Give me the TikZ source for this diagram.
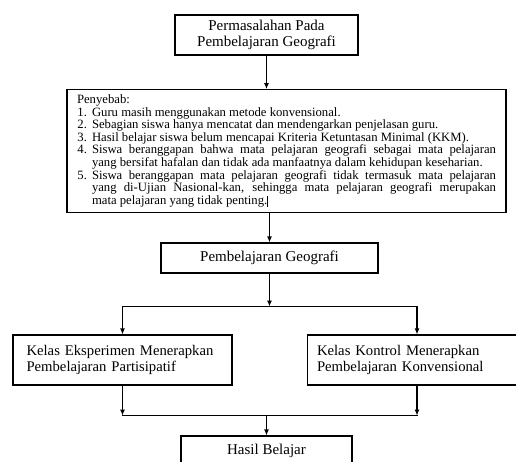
\documentclass[tikz,border=0pt]{standalone}
\usepackage{fontspec}
\setmainfont{Liberation Serif}
\usetikzlibrary{arrows.meta}

\begin{document}
\begin{tikzpicture}[x=1pt, y=-1pt, node distance=107pt, >={Latex[length=6pt,width=5pt]},
    kotak/.style={draw, line width=1.1pt, fill=white, align=center, font=\fontsize{15}{15.5}\selectfont},
    sisi/.style={kotak, align=left, minimum height=50pt, font=\fontsize{14.7}{15.5}\selectfont},
    panah/.style={->, line width=1.1pt},
    garis/.style={line width=1.1pt, line cap=rect}]
    \useasboundingbox (0,0) rectangle (516,461);
    \clip (0,0) rectangle (516,461);
    \node[kotak, minimum width=183pt, minimum height=40pt] (masalah) at (266.5,35) {Permasalahan Pada\\Pembelajaran Geografi};
    \node[kotak, align=justify, text width=419pt, inner xsep=10pt, inner ysep=5pt, font=\fontsize{12.7}{11.5}\selectfont, below of=masalah, xshift=20pt, yshift=-9pt] (penyebab) {\hyphenpenalty=10000 Penyebab:
        \begin{list}{\arabic{enumi}.}{\usecounter{enumi}\setlength{\leftmargin}{15pt}\setlength{\labelsep}{5pt}\setlength{\labelwidth}{10pt}%
            \setlength{\topsep}{0pt}\setlength{\partopsep}{0pt}\setlength{\itemsep}{0pt}\setlength{\parsep}{0pt}}
        \item Guru masih menggunakan metode konvensional.
        \item Sebagian siswa hanya mencatat dan mendengarkan penjelasan guru.
        \item Hasil belajar siswa belum mencapai Kriteria Ketuntasan Minimal (KKM).
        \item Siswa beranggapan bahwa mata pelajaran geografi sebagai mata pelajaran\linebreak
            yang bersifat hafalan dan tidak ada manfaatnya dalam kehidupan keseharian.
        \item Siswa beranggapan mata pelajaran geografi tidak termasuk mata pelajaran\linebreak
            yang di-Ujian Nasional-kan, sehingga mata pelajaran geografi merupakan\linebreak
            mata pelajaran yang tidak penting.\rule[-2pt]{0.7pt}{11pt}
        \end{list}};
    \node[kotak, minimum width=217pt, minimum height=30pt, below of=penyebab, xshift=-17pt] (geografi) {Pembelajaran Geografi};
    \node[sisi, text width=192pt, inner xsep=13.5pt, below of=geografi, xshift=-147pt, yshift=5pt] (eksperimen) {Kelas Eksperimen Menerapkan\\Pembelajaran Partisipatif};
    \node[sisi, text width=200pt, inner xsep=9.5pt, below of=geografi, xshift=147.5pt, yshift=5pt] (kontrol) {Kelas Kontrol Menerapkan\\Pembelajaran Konvensional};
    \node[kotak, minimum width=171pt, minimum height=30pt, below of=geografi, xshift=-3pt, yshift=-86pt] (hasil) {Hasil Belajar};
    \coordinate (bagi) at ([yshift=-33pt]geografi.south);
    \coordinate (gabung) at ([yshift=-30pt]eksperimen.south);

    \draw[panah] (masalah) -- (masalah |- penyebab.north);
    \draw[panah] (geografi.north |- penyebab.south) -- (geografi);
    \draw[panah] (geografi) -- (bagi);
    \draw[panah] (bagi) -| (eksperimen);
    \draw[panah] (bagi) -| (kontrol);
    \draw[panah] (eksperimen) -- (eksperimen.south |- gabung);
    \draw[panah] (kontrol) -- (kontrol.south |- gabung);
    \draw[garis] (eksperimen.south |- gabung) -- (kontrol.south |- gabung);
    \draw[panah] (hasil.north |- gabung) -- (hasil);
\end{tikzpicture}
\end{document}
